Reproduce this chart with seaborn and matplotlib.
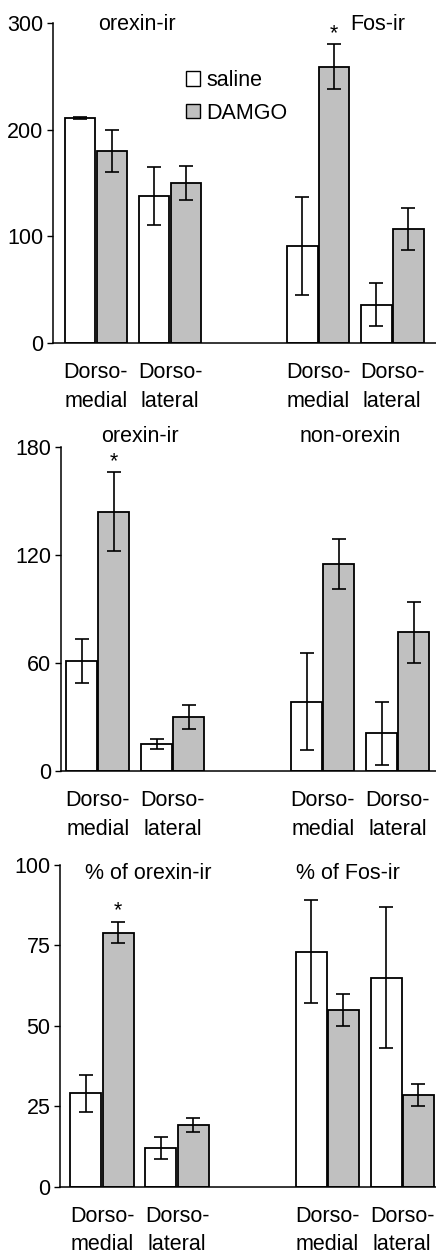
import numpy as np
import pandas as pd
import matplotlib
matplotlib.use("Agg")
import matplotlib.pyplot as plt
import seaborn as sns
from matplotlib.patches import Patch

# x positions of the four region groups (a spacer is left at 2)
positions = [0, 1, 3, 4]
tick_labels = ["Dorso-\nmedial", "Dorso-\nlateral", "Dorso-\nmedial", "Dorso-\nlateral"]
treatments = ["saline", "DAMGO"]

# panel 1: orexin-ir / Fos-ir counts
p1_saline = [211, 138, 91, 36]
p1_saline_err = [1, 27, 46, 20]
p1_damgo = [180, 150, 259, 107]
p1_damgo_err = [20, 16, 21, 20]

# panel 2: orexin-ir / non-orexin
p2_saline = [61, 15, 38.5, 21]
p2_saline_err = [12, 2.8, 27, 17.5]
p2_damgo = [144, 30, 115, 77]
p2_damgo_err = [22, 6.5, 14, 17]

# panel 3: percentages
p3_saline = [29, 12, 73, 65]
p3_saline_err = [5.7, 3.4, 16, 22]
p3_damgo = [79, 19.2, 55, 28.5]
p3_damgo_err = [3.4, 2.1, 5, 3.3]

FS = 15.5
plt.rcParams['font.family'] = ['Liberation Sans', 'DejaVu Sans']
plt.rcParams['font.size'] = FS

W, H = 436, 1255
fig = plt.figure(figsize=(W / 100, H / 100), dpi=100)

colors = {"saline": "white", "DAMGO": "#c0c0c0"}


def make_panel(rect_px, xlim, ymax, yticks, sal, sal_err, dam, dam_err,
               titles, title_y, stars):
    left, top, bottom = rect_px
    ax = fig.add_axes([left / W, 1 - bottom / H, (W - left) / W, (bottom - top) / H])
    df = pd.DataFrame({
        "pos": positions * 2,
        "treatment": ["saline"] * 4 + ["DAMGO"] * 4,
        "value": sal + dam,
    })
    sns.barplot(data=df, x="pos", y="value", hue="treatment", native_scale=True,
                hue_order=treatments, palette=colors, edgecolor="black",
                linewidth=1.3, width=0.86, gap=0.04, errorbar=None,
                legend=False, ax=ax)
    # error bars at the bar centres
    bars = sorted(ax.patches, key=lambda p: p.get_x())
    errs = [e for pair in zip(sal_err, dam_err) for e in pair]
    xs = [b.get_x() + b.get_width() / 2 for b in bars]
    ys = [b.get_height() for b in bars]
    ax.errorbar(xs, ys, yerr=errs, fmt="none", ecolor="black", elinewidth=1.2,
                capsize=5, capthick=1.2, zorder=5)
    for i in stars:
        ax.annotate("*", (xs[i], ys[i] + errs[i]), xytext=(0, 0),
                    textcoords="offset points", ha="center", va="bottom",
                    fontsize=FS)
    ax.set_xlim(*xlim)
    ax.set_ylim(0, ymax)
    ax.set_yticks(yticks)
    ax.set_xticks(positions)
    ax.set_xticklabels(tick_labels, linespacing=1.45)
    ax.tick_params(axis="x", length=0, pad=14)
    ax.tick_params(axis="y", length=4, width=1, direction="out", pad=3)
    ax.set_xlabel("")
    ax.set_ylabel("")
    for s in ["top", "right"]:
        ax.spines[s].set_visible(False)
    for s in ["left", "bottom"]:
        ax.spines[s].set_linewidth(1.1)
    for (tx, txt) in titles:
        ax.text(tx, title_y, txt, transform=ax.get_xaxis_transform(),
                ha="center", va="center", fontsize=FS)
    return ax


ax1 = make_panel((53, 23, 343), (-0.58, 4.59), 300, [0, 100, 200, 300],
                 p1_saline, p1_saline_err, p1_damgo, p1_damgo_err,
                 [(0.55, "orexin-ir"), (3.81, "Fos-ir")], 0.995, [5])
ax2 = make_panel((61, 446.7, 771), (-0.49, 4.51), 180, [0, 60, 120, 180],
                 p2_saline, p2_saline_err, p2_damgo, p2_damgo_err,
                 [(0.56, "orexin-ir"), (3.36, "non-orexin")], 1.03, [1])
ax3 = make_panel((60, 865, 1186.7), (-0.56, 4.45), 100, [0, 25, 50, 75, 100],
                 p3_saline, p3_saline_err, p3_damgo, p3_damgo_err,
                 [(0.61, "% of orexin-ir"), (3.28, "% of Fos-ir")], 0.975, [1])

handles = [Patch(facecolor=colors[t], edgecolor="black", linewidth=1.0, label=t)
           for t in treatments]
ax1.legend(handles=handles, loc="upper left", bbox_to_anchor=(186 / W, 1 - 70 / H),
           bbox_transform=fig.transFigure, frameon=False, borderpad=0,
           borderaxespad=0, handlelength=0.65, handleheight=0.65,
           handletextpad=0.3, labelspacing=0.55, fontsize=FS)

fig.savefig("out.png", dpi=100)
